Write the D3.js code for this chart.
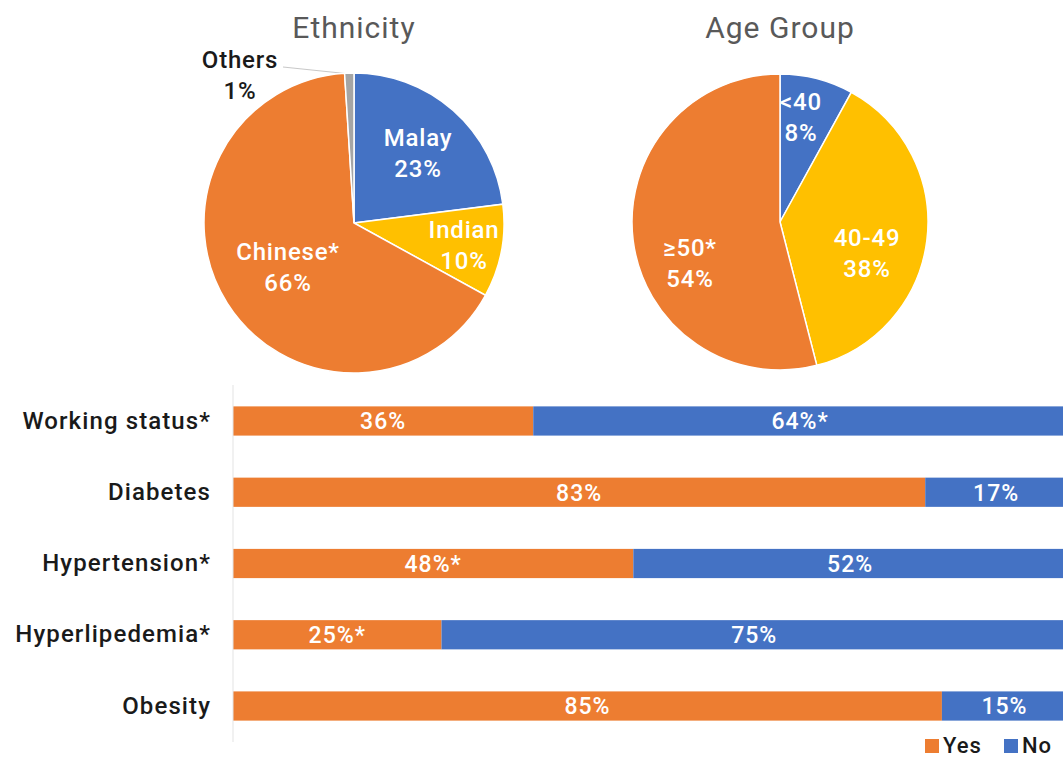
<!DOCTYPE html>
<html>
<head>
<meta charset="utf-8">
<script src="https://cdn.jsdelivr.net/npm/d3@7"></script>
<style>
  body { margin: 0; background: #fff; }
  svg { display: block; font-family: "Roboto", "DejaVu Sans", sans-serif; }
</style>
</head>
<body>
<svg id="chart" width="1063" height="761"></svg>
<script>
// Ethnicity pie
const ethLabels = ["Malay", "Indian", "Chinese*", "Others"];
const ethValues = [23, 10, 66, 1];
// Age group pie
const ageLabels = ["<40", "40-49", "\u226550*"];
const ageValues = [8, 38, 54];
// Stacked bars
const barCategories = ["Working status*", "Diabetes", "Hypertension*", "Hyperlipedemia*", "Obesity"];
const yesValues = [36, 83, 48, 25, 85];
const noValues = [64, 17, 52, 75, 15];
const yesLabels = ["36%", "83%", "48%*", "25%*", "85%"];
const noLabels = ["64%*", "17%", "52%", "75%", "15%"];

const ORANGE = "#ED7D31", BLUE = "#4472C4", YELLOW = "#FFC000", GRAY = "#A5A5A5";

const svg = d3.select("#chart");

function drawPie(cx, cy, r, title, labels, values, colors, labelPos) {
    const g = svg.append("g").attr("transform", `translate(${cx},${cy})`);
    const pie = d3.pie().sort(null).value(d => d);
    const arc = d3.arc().innerRadius(0).outerRadius(r);
    const arcs = pie(values);

    g.selectAll("path")
        .data(arcs)
        .enter().append("path")
        .attr("d", arc)
        .attr("fill", (d, i) => colors[i])
        .attr("stroke", "#fff")
        .attr("stroke-width", 1.5);

    svg.append("text")
        .attr("x", cx)
        .attr("y", 38)
        .attr("text-anchor", "middle")
        .attr("font-size", 30)
        .attr("letter-spacing", 1)
        .attr("fill", "#595959")
        .text(title);

    arcs.forEach((d, i) => {
        const p = labelPos[i];
        const t = g.append("text")
            .attr("text-anchor", "middle")
            .attr("font-size", 24)
            .attr("letter-spacing", 0.8)
            .attr("font-weight", 500)
            .attr("fill", p.dark ? "#1a1a1a" : "#fff");
        t.append("tspan").attr("x", p.x).attr("y", p.y).text(labels[i]);
        t.append("tspan").attr("x", p.x).attr("y", p.y + 31).text(d3.format(".0f")(values[i]) + "%");
    });
}

// Others leader line
svg.append("line")
    .attr("x1", 283).attr("y1", 67)
    .attr("x2", 350).attr("y2", 74)
    .attr("stroke", "#c8c8c8")
    .attr("stroke-width", 1);

drawPie(354, 223, 150, "Ethnicity", ethLabels, ethValues, [BLUE, YELLOW, ORANGE, GRAY], [
    { x: 64, y: -77 },
    { x: 110, y: 15 },
    { x: -66, y: 37 },
    { x: -114, y: -155, dark: true }
]);

drawPie(780, 222, 148, "Age Group", ageLabels, ageValues, [BLUE, YELLOW, ORANGE], [
    { x: 21, y: -112 },
    { x: 87, y: 24 },
    { x: -90, y: 34 }
]);

// Stacked bar chart
const x = d3.scaleLinear().domain([0, 100]).range([233, 1067]);
const y = d3.scaleBand().domain(barCategories).range([385, 742]).paddingInner(0.59).paddingOuter(0.3);

const rows = barCategories.map((c, i) => ({
    cat: c,
    parts: [
        { x0: 0, x1: yesValues[i], color: ORANGE, label: yesLabels[i] },
        { x0: yesValues[i], x1: yesValues[i] + noValues[i], color: BLUE, label: noLabels[i] }
    ]
}));

const barG = svg.append("g");
rows.forEach(row => {
    row.parts.forEach(p => {
        barG.append("rect")
            .attr("x", x(p.x0))
            .attr("y", y(row.cat))
            .attr("width", x(p.x1) - x(p.x0))
            .attr("height", y.bandwidth())
            .attr("fill", p.color);
        barG.append("text")
            .attr("x", (x(p.x0) + x(p.x1)) / 2)
            .attr("y", y(row.cat) + y.bandwidth() / 2)
            .attr("dy", "0.36em")
            .attr("text-anchor", "middle")
            .attr("font-size", 23)
            .attr("letter-spacing", 1)
            .attr("font-weight", 500)
            .attr("fill", "#fff")
            .text(p.label);
    });
});

// Axis
const yAxis = svg.append("g")
    .attr("transform", "translate(233,0)")
    .call(d3.axisLeft(y).tickSize(0).tickPadding(22));
yAxis.select(".domain").attr("stroke", "#e3e3e3").attr("d", "M0,385V742");
yAxis.selectAll("text")
    .attr("font-size", 24)
    .attr("letter-spacing", 1.1)
    .attr("font-weight", 500)
    .attr("fill", "#1a1a1a")
    .attr("font-family", "Roboto, sans-serif");

// Legend
const legend = svg.append("g").attr("font-size", 22).attr("font-weight", 500).attr("letter-spacing", 1);
[["Yes", ORANGE, 925], ["No", BLUE, 1004]].forEach(([name, color, lx]) => {
    legend.append("rect").attr("x", lx).attr("y", 739).attr("width", 14).attr("height", 14).attr("fill", color);
    legend.append("text").attr("x", lx + 18).attr("y", 753).attr("fill", "#1a1a1a").text(name);
});
</script>
</body>
</html>
